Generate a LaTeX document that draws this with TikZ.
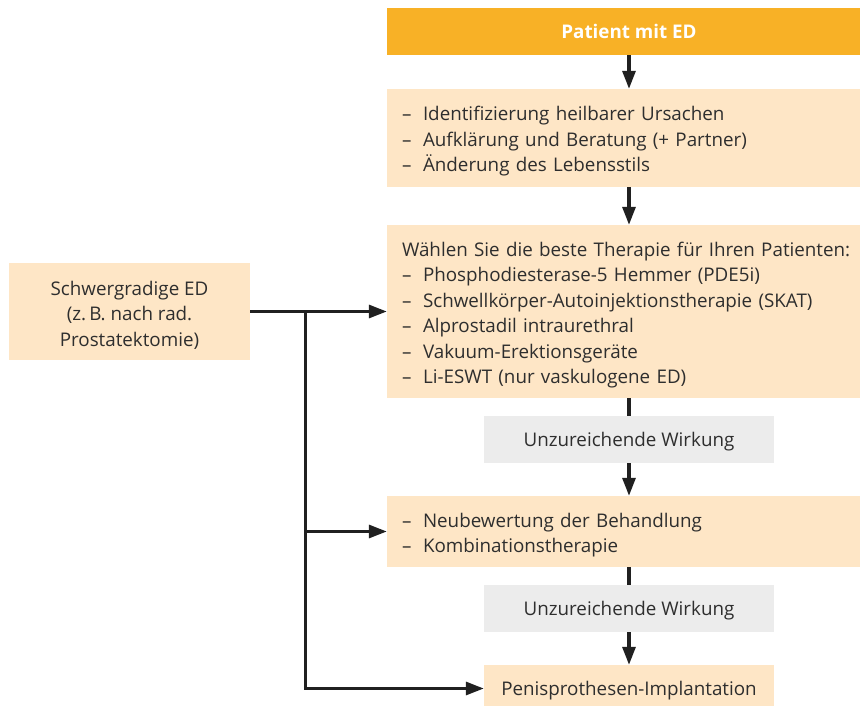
\documentclass[tikz,border=0pt]{standalone}
\usepackage{fontspec}
\setmainfont{Open Sans}
\usepackage{xcolor}
\usetikzlibrary{arrows.meta, positioning, calc}
\definecolor{edorange}{HTML}{F8B126}
\definecolor{edbeige}{HTML}{FEE6C6}
\definecolor{edgrau}{HTML}{ECECEC}
\definecolor{edtext}{HTML}{2E2E2E}
\newcommand{\strich}{\makebox[21pt][l]{\textendash}}

\begin{document}
\begin{tikzpicture}[x=1pt, y=-1pt,
    every node/.style={font=\fontsize{18.8}{25.5}\selectfont, text=edtext},
    kasten/.style={fill=edbeige, minimum width=484pt, text width=454pt,
        align=left, inner xsep=15pt,
        execute at begin node={\rule{0pt}{21.5pt}}},
    zeile/.style={minimum height=47pt, text height=13.4pt, text depth=0pt},
    grau/.style={zeile, fill=edgrau, minimum width=290pt},
    pfeil/.style={line width=3.2pt, draw=edtext!70!black,
        -{Triangle[length=18pt, width=13pt]}},
    linie/.style={line width=3.2pt, draw=edtext!70!black}]
    \useasboundingbox (0,0) rectangle (860,706);

    % Main column
    \node (patient) at (629,31.5) [zeile, fill=edorange, minimum width=484pt]
        {\textcolor{white}{\bfseries Patient mit ED}};
    \node (basis) at (629,138) [kasten, minimum height=98pt]
        {\strich Identifizierung heilbarer Ursachen\\
         \strich Aufklärung und Beratung (+ Partner)\\
         \strich Änderung des Lebensstils};
    \node (therapie) at (629,311.5) [kasten, minimum height=173pt]
        {Wählen Sie die beste Therapie für Ihren Patienten:\\
         \strich Phosphodiesterase-5 Hemmer (PDE5i)\\
         \strich Schwellkörper-Autoinjektionstherapie (SKAT)\\
         \strich Alprostadil intraurethral\\
         \strich Vakuum-Erektionsgeräte\\
         \strich Li-ESWT (nur vaskulogene ED)};
    \node (wirkA) at (629,439.5) [grau] {Unzureichende Wirkung};
    \node (neubew) at (629,531.5) [kasten, minimum height=71pt]
        {\strich Neubewertung der Behandlung\\
         \strich Kombinationstherapie};
    \node (wirkB) at (629,608.5) [grau] {Unzureichende Wirkung};
    \node (implant) at (629,688.5) [zeile, fill=edbeige, minimum width=290pt]
        {Penisprothesen-Implantation};

    % Side entry
    \node (schwer) at (129.5,311.5) [fill=edbeige, minimum width=241pt,
        minimum height=97pt, align=center]
        {\rule{0pt}{21.5pt}Schwergradige ED\\(z.\,B. nach rad.\\Prostatektomie)};
    \coordinate (knick) at (305.5,311.5);

    % Connectors
    \draw[pfeil] (patient) -- (basis);
    \draw[pfeil] (basis) -- (therapie);
    \draw[linie] (therapie) -- (wirkA);
    \draw[pfeil] (wirkA) -- (neubew);
    \draw[linie] (neubew) -- (wirkB);
    \draw[pfeil] (wirkB) -- (implant);
    \draw[pfeil] (schwer) -- (therapie);
    \draw[pfeil] (knick) |- (implant.west);
    \draw[pfeil] (knick |- neubew.west) -- (neubew.west);
\end{tikzpicture}
\end{document}
